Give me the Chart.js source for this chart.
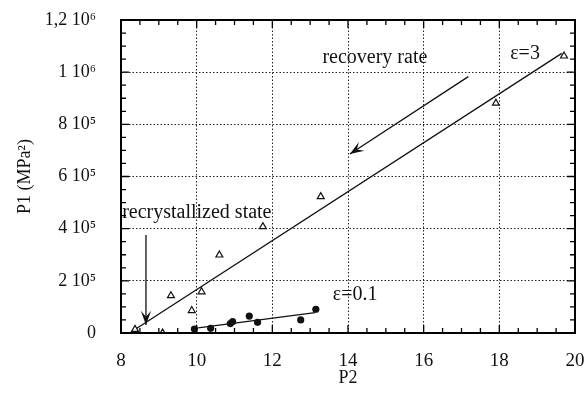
<!DOCTYPE html>
<html>
<head>
<meta charset="utf-8">
<script src="https://cdn.jsdelivr.net/npm/chart.js@4.4.0/dist/chart.umd.min.js"></script>
<style>
  html, body { margin: 0; padding: 0; background: #fff; }
  #wrap { width: 588px; height: 396px; }
</style>
</head>
<body>
<div id="wrap"><canvas id="grafico" width="588" height="396"></canvas></div>
<script>
// Valores (P2 en x, P1 en y)
const triP2 = [8.37, 9.10, 9.32, 9.87, 10.13, 10.60, 11.75, 13.28, 17.91, 19.71];
const triP1 = [1.4e4, 0, 1.43e5, 8.6e4, 1.58e5, 2.99e5, 4.08e5, 5.23e5, 8.81e5, 1.062e6];
const circP2 = [9.94, 10.37, 10.89, 10.95, 11.39, 11.61, 12.75, 13.15];
const circP1 = [1.5e4, 1.8e4, 3.6e4, 4.4e4, 6.5e4, 4.1e4, 5.0e4, 9.1e4];
const fit3P2 = [8.42, 19.65];
const fit3P1 = [1.8e4, 1.072e6];
const fit01P2 = [10.04, 13.13];
const fit01P1 = [2.0e4, 7.8e4];

const xTicks = [8, 10, 12, 14, 16, 18, 20];
const yTicks = [0, 2e5, 4e5, 6e5, 8e5, 1e6, 1.2e6];
const yTickLabels = ['0', '2 10⁵', '4 10⁵', '6 10⁵', '8 10⁵', '1 10⁶', '1,2 10⁶'];

// Textos y flechas del gráfico, en coordenadas de datos
const notas = [
  { text: 'recovery rate', x: 14.71, y: 1.056e6, align: 'center' },
  { text: 'ε=3', x: 18.68, y: 1.072e6, align: 'center' },
  { text: 'recrystallized state', x: 8.03, y: 4.6e5, align: 'left' },
  { text: 'ε=0.1', x: 14.19, y: 1.46e5, align: 'center' }
];
const flechas = [
  { from: [17.18, 9.83e5], to: [14.05, 6.86e5] },
  { from: [8.66, 3.76e5], to: [8.66, 3.1e4] }
];

const fuente = "'Liberation Serif', 'Times New Roman', serif";
const xMinorStep = 0.5;
const yMinorStep = 5e4;

function toPoints(xs, ys) {
  return xs.map((x, i) => ({ x: x, y: ys[i] }));
}

// Punta de flecha con muesca
function punta(ctx, x0, y0, x1, y1, len, ang) {
  const a = Math.atan2(y1 - y0, x1 - x0);
  ctx.beginPath();
  ctx.moveTo(x1, y1);
  ctx.lineTo(x1 - len * Math.cos(a - ang), y1 - len * Math.sin(a - ang));
  ctx.lineTo(x1 - len * 0.55 * Math.cos(a), y1 - len * 0.55 * Math.sin(a));
  ctx.lineTo(x1 - len * Math.cos(a + ang), y1 - len * Math.sin(a + ang));
  ctx.closePath();
  ctx.fill();
}

const marcoPlugin = {
  id: 'marco',
  afterDatasetsDraw(chart) {
    const ctx = chart.ctx;
    const xs = chart.scales.x, ys = chart.scales.y;
    ctx.save();
    ctx.fillStyle = '#111';
    ctx.strokeStyle = '#111';
    ctx.textBaseline = 'middle';
    ctx.font = '20px ' + fuente;
    notas.forEach(n => {
      ctx.textAlign = n.align;
      ctx.fillText(n.text, xs.getPixelForValue(n.x), ys.getPixelForValue(n.y));
    });
    ctx.lineWidth = 1.3;
    flechas.forEach(f => {
      const x0 = xs.getPixelForValue(f.from[0]), y0 = ys.getPixelForValue(f.from[1]);
      const x1 = xs.getPixelForValue(f.to[0]), y1 = ys.getPixelForValue(f.to[1]);
      ctx.beginPath();
      ctx.moveTo(x0, y0);
      ctx.lineTo(x1, y1);
      ctx.stroke();
      punta(ctx, x0, y0, x1, y1, 15, 0.35);
    });
    ctx.restore();
  },
  afterDraw(chart) {
    const ctx = chart.ctx;
    const { left, right, top, bottom } = chart.chartArea;
    const xs = chart.scales.x, ys = chart.scales.y;
    ctx.save();
    ctx.strokeStyle = '#000';
    ctx.lineWidth = 2;
    ctx.strokeRect(left, top, right - left, bottom - top);
    ctx.lineWidth = 1.3;
    ctx.beginPath();
    // marcas hacia dentro en los cuatro lados
    for (let v = xs.min; v <= xs.max + 1e-9; v += xMinorStep) {
      const px = xs.getPixelForValue(v);
      const len = Math.abs(v % 2) < 1e-9 ? 8 : 5;
      ctx.moveTo(px, bottom); ctx.lineTo(px, bottom - len);
      ctx.moveTo(px, top); ctx.lineTo(px, top + len);
    }
    for (let v = ys.min; v <= ys.max + 1; v += yMinorStep) {
      const py = ys.getPixelForValue(v);
      const len = Math.abs(v % 2e5) < 1 ? 8 : 5;
      ctx.moveTo(left, py); ctx.lineTo(left + len, py);
      ctx.moveTo(right, py); ctx.lineTo(right - len, py);
    }
    ctx.stroke();
    ctx.restore();
  }
};

function initializeChart() {
  const canvas = document.getElementById('grafico');
  const ctx = canvas.getContext('2d');

  const gridColor = function(c) {
    if (!c.tick) return 'rgba(0,0,0,0)';
    const s = c.scale;
    if (c.tick.value === s.min || c.tick.value === s.max) return 'rgba(0,0,0,0)';
    return '#222';
  };

  return new Chart(ctx, {
    type: 'scatter',
    data: {
      datasets: [
        {
          label: 'ε=3',
          data: toPoints(triP2, triP1),
          pointStyle: 'triangle',
          pointRadius: 4,
          borderColor: '#111',
          backgroundColor: '#fff',
          borderWidth: 1.2
        },
        {
          label: 'ε=0.1',
          data: toPoints(circP2, circP1),
          pointStyle: 'circle',
          pointRadius: 3.6,
          borderColor: '#111',
          backgroundColor: '#111',
          borderWidth: 0
        },
        {
          type: 'line',
          label: 'ajuste ε=3',
          data: toPoints(fit3P2, fit3P1),
          borderColor: '#111',
          borderWidth: 1.3,
          pointRadius: 0,
          fill: false
        },
        {
          type: 'line',
          label: 'ajuste ε=0.1',
          data: toPoints(fit01P2, fit01P1),
          borderColor: '#111',
          borderWidth: 1.3,
          pointRadius: 0,
          fill: false
        }
      ]
    },
    options: {
      responsive: false,
      animation: false,
      layout: { padding: { left: 0, right: 13, top: 20, bottom: 0 } },
      plugins: {
        legend: { display: false },
        tooltip: { enabled: false }
      },
      scales: {
        x: {
          type: 'linear',
          min: 8,
          max: 20,
          afterBuildTicks: s => { s.ticks = xTicks.map(v => ({ value: v })); },
          afterFit: s => {
            s.height = 63;
            s.paddingLeft = 0;
            s.paddingRight = 0;
          },
          grid: { color: gridColor, lineWidth: 1, drawTicks: false },
          border: { display: true, color: '#000', width: 2, dash: [1.5, 2] },
          ticks: {
            padding: 17,
            color: '#111',
            autoSkip: false,
            maxRotation: 0,
            font: { family: fuente, size: 19 }
          },
          title: {
            display: true,
            text: 'P2',
            color: '#111',
            padding: 7,
            font: { family: fuente, size: 18 }
          }
        },
        y: {
          type: 'linear',
          min: 0,
          max: 1.2e6,
          afterBuildTicks: s => { s.ticks = yTicks.map(v => ({ value: v })); },
          afterFit: s => {
            s.width = 121;
            s.paddingTop = 0;
            s.paddingBottom = 0;
          },
          grid: { color: gridColor, lineWidth: 1, drawTicks: false },
          border: { display: true, color: '#000', width: 2, dash: [1.5, 2] },
          ticks: {
            padding: 25,
            color: '#111',
            autoSkip: false,
            font: { family: fuente, size: 18 },
            callback: function(value) {
              const i = yTicks.indexOf(value);
              return i >= 0 ? yTickLabels[i] : '';
            }
          },
          title: {
            display: true,
            text: 'P1 (MPa²)',
            color: '#111',
            padding: 14,
            font: { family: fuente, size: 18 }
          }
        }
      }
    },
    plugins: [marcoPlugin]
  });
}

initializeChart();
</script>
</body>
</html>
